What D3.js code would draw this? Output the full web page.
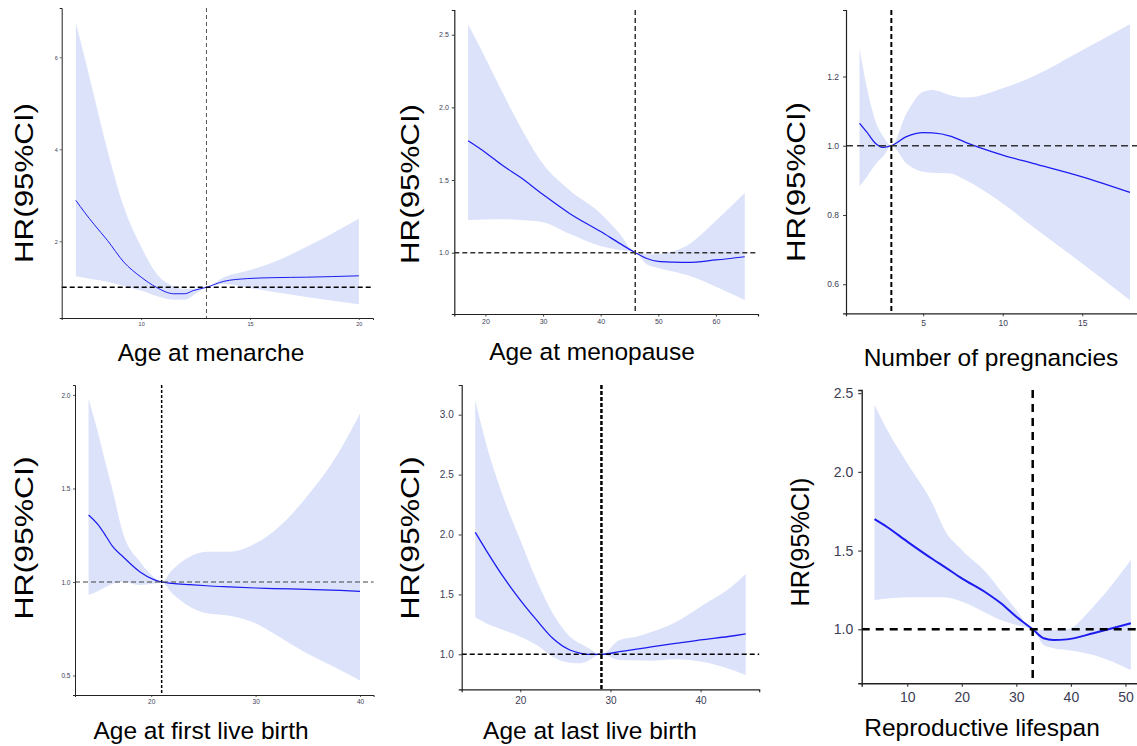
<!DOCTYPE html>
<html>
<head>
<meta charset="utf-8">
<script src="https://cdn.jsdelivr.net/npm/d3@7"></script>
<style>
  body { margin: 0; background: #fff; }
  svg { display: block; font-family: "Liberation Sans", Arial, sans-serif; }
</style>
</head>
<body>
<svg width="1137" height="746"></svg>
<script>
// ---- data (x, HR estimate, lower CI, upper CI) ----
var menarcheX  = [7, 7.4, 7.85, 8.45, 9.2, 10, 10.7, 11.5, 12.0, 12.4, 13, 13.8, 14.9, 16.1, 17.6, 20];
var menarcheHR = [2.89, 2.63, 2.36, 2.02, 1.55, 1.22, 1.0, 0.86, 0.86, 0.93, 1.0, 1.13, 1.19, 1.21, 1.22, 1.25];
var menarcheLo = [1.24, 1.21, 1.17, 1.12, 1.03, 0.93, 0.81, 0.73, 0.73, 0.83, 1.0, 1.07, 0.99, 0.9, 0.79, 0.63];
var menarcheHi = [6.75, 6.0, 5.13, 3.98, 2.75, 1.88, 1.30, 1.02, 0.97, 0.97, 1.0, 1.22, 1.36, 1.55, 1.88, 2.49];

var menopauseX  = [17, 20, 23, 26, 30, 34.6, 40, 43.3, 46, 48, 50, 52.6, 55, 60, 65];
var menopauseHR = [1.77, 1.69, 1.60, 1.52, 1.40, 1.27, 1.145, 1.064, 1.0, 0.96, 0.94, 0.935, 0.933, 0.95, 0.972];
var menopauseLo = [1.225, 1.228, 1.23, 1.225, 1.21, 1.13, 1.046, 1.018, 1.0, 0.92, 0.895, 0.87, 0.846, 0.766, 0.674];
var menopauseHi = [2.57, 2.34, 2.10, 1.87, 1.61, 1.43, 1.27, 1.13, 1.0, 0.99, 0.99, 1.01, 1.05, 1.22, 1.41];

var pregX  = [1, 1.45, 2.05, 2.5, 3, 3.95, 5, 5.6, 6.7, 7.7, 10, 11.9, 15, 18];
var pregHR = [1.065, 1.04, 1.005, 0.995, 1.0, 1.026, 1.038, 1.037, 1.028, 1.009, 0.973, 0.949, 0.91, 0.865];
var pregLo = [0.883, 0.91, 0.949, 0.97, 1.0, 0.949, 0.925, 0.922, 0.92, 0.90, 0.833, 0.766, 0.66, 0.554];
var pregHi = [1.281, 1.17, 1.065, 1.026, 1.0, 1.093, 1.156, 1.161, 1.146, 1.139, 1.166, 1.2, 1.276, 1.351];

var firstX  = [14, 15, 15.7, 16.3, 17.3, 18.9, 20.2, 21, 22, 23.7, 25.3, 27.5, 30, 31.7, 34.9, 38.1, 40];
var firstHR = [1.358, 1.30, 1.242, 1.19, 1.135, 1.055, 1.014, 1.0, 0.993, 0.986, 0.98, 0.974, 0.968, 0.965, 0.961, 0.955, 0.95];
var firstLo = [0.93, 0.955, 0.975, 0.99, 1.0, 0.984, 0.99, 1.0, 0.94, 0.868, 0.833, 0.82, 0.78, 0.726, 0.619, 0.53, 0.473];
var firstHi = [1.98, 1.777, 1.62, 1.49, 1.26, 1.109, 1.028, 1.0, 1.064, 1.135, 1.162, 1.162, 1.207, 1.269, 1.456, 1.706, 1.90];

var lastX  = [15, 16.2, 18.1, 20, 21.8, 23.6, 25.5, 26.6, 27.3, 29, 31, 32.9, 34.7, 37, 40, 43.7, 45];
var lastHR = [2.018, 1.87, 1.648, 1.453, 1.287, 1.134, 1.036, 1.01, 1.0, 1.0, 1.022, 1.043, 1.064, 1.09, 1.12, 1.155, 1.17];
var lastLo = [1.309, 1.259, 1.203, 1.147, 1.078, 0.98, 0.93, 0.925, 0.939, 1.0, 0.953, 0.95, 0.947, 0.958, 0.94, 0.865, 0.828];
var lastHi = [3.12, 2.76, 2.316, 1.954, 1.62, 1.342, 1.147, 1.09, 1.064, 1.0, 1.12, 1.147, 1.19, 1.26, 1.398, 1.58, 1.67];

var lifespanX  = [4, 6.3, 10, 14.9, 16.7, 20, 24.6, 27, 30, 33, 35, 36.8, 39.3, 44.1, 51];
var lifespanHR = [1.70, 1.65, 1.557, 1.44, 1.40, 1.324, 1.229, 1.17, 1.08, 1.0, 0.943, 0.932, 0.936, 0.975, 1.038];
var lifespanLo = [1.186, 1.195, 1.203, 1.203, 1.203, 1.176, 1.10, 1.06, 1.028, 1.0, 0.90, 0.88, 0.869, 0.837, 0.742];
var lifespanHi = [2.426, 2.267, 2.055, 1.78, 1.64, 1.504, 1.356, 1.25, 1.123, 1.0, 0.996, 0.996, 1.0, 1.144, 1.44];

var titles = ["Age at menarche", "Age at menopause", "Number of pregnancies",
              "Age at first live birth", "Age at last live birth", "Reproductive lifespan"];
var refX = [13, 46, 3, 21, 29, 33];
var xTicks = [[10, 15, 20], [20, 30, 40, 50, 60], [5, 10, 15], [20, 30, 40], [20, 30, 40], [10, 20, 30, 40, 50]];
var yTicks = [[2, 4, 6], [1.0, 1.5, 2.0, 2.5], [0.6, 0.8, 1.0, 1.2], [0.5, 1.0, 1.5, 2.0], [1.0, 1.5, 2.0, 2.5, 3.0], [1.0, 1.5, 2.0, 2.5]];

var series = [
  [menarcheX, menarcheHR, menarcheLo, menarcheHi],
  [menopauseX, menopauseHR, menopauseLo, menopauseHi],
  [pregX, pregHR, pregLo, pregHi],
  [firstX, firstHR, firstLo, firstHi],
  [lastX, lastHR, lastLo, lastHi],
  [lifespanX, lifespanHR, lifespanLo, lifespanHi]
];

// layout and style per panel
var layout = [
  {box: [61.7, 8, 373, 318], xd: [6.35, 20.65], yd: [0.333, 7.07], fmt: "d", fs: 5.5, tick: 2, pad: 2,
   tx: 211, ty: 361, yx: 24, yy: 183, ylen: 160, lw: 1, axw: 1,
   v: ["#555", 1, "4,3"], h: ["#000", 1.5, "5,3"]},
  {box: [454.3, 10, 758, 314], xd: [14.6, 67.3], yd: [0.578, 2.67], fmt: ".1f", fs: 7, tick: 2.5, pad: 3,
   tx: 592, ty: 360, yx: 410, yy: 184, ylen: 160, lw: 1.2, axw: 1.2,
   v: ["#333", 1.5, "5,3"], h: ["#333", 1.5, "5,3"]},
  {box: [846, 10, 1143.5, 313.3], xd: [0.15, 18.85], yd: [0.516, 1.392], fmt: ".1f", fs: 8.5, tick: 3, pad: 4,
   tx: 991, ty: 366, yx: 796, yy: 182, ylen: 160, lw: 1.3, axw: 1.2,
   v: ["#000", 2, "5,3"], h: ["#333", 1.6, "7,4"]},
  {box: [75, 385, 373.6, 695], xd: [12.7, 41.3], yd: [0.396, 2.053], fmt: ".1f", fs: 6.5, tick: 2, pad: 2.5,
   tx: 201, ty: 739, yx: 24, yy: 538, ylen: 163, lw: 1.2, axw: 1,
   v: ["#000", 1.5, "3,2"], h: ["#444", 1.2, "5,3"]},
  {box: [461.7, 385, 759.2, 689.3], xd: [13.5, 46.5], yd: [0.708, 3.248], fmt: ".1f", fs: 10, tick: 3, pad: 5,
   tx: 590, ty: 739, yx: 410, yy: 538, ylen: 163, lw: 1.3, axw: 1.2,
   v: ["#000", 2.5, "4,2"], h: ["#000", 1.5, "5,3"]},
  {box: [861.7, 390, 1143.7, 683.3], xd: [1.65, 53.35], yd: [0.657, 2.52], fmt: ".1f", fs: 14, tick: 3.5, pad: 5,
   tx: 982, ty: 736, yx: 800, yy: 542, ylen: 129, lw: 2, axw: 1.4,
   v: ["#000", 2.5, "8,6"], h: ["#000", 2.5, "8,6"]}
];

var svg = d3.select("svg");

series.forEach(function(s, i) {
  var L = layout[i];
  var x = d3.scaleLinear().domain(L.xd).range([L.box[0], L.box[2]]);
  var y = d3.scaleLinear().domain(L.yd).range([L.box[3], L.box[1]]);
  var pts = s[0].map(function(d, k) { return {x: d, est: s[1][k], lo: s[2][k], hi: s[3][k]}; });
  var g = svg.append("g");

  g.append("path")
    .datum(pts)
    .attr("fill", "#dbe2fa")
    .attr("d", d3.area()
      .x(function(d) { return x(d.x); })
      .y0(function(d) { return y(d.lo); })
      .y1(function(d) { return y(d.hi); })
      .curve(d3.curveMonotoneX));

  g.append("path")
    .datum(pts)
    .attr("fill", "none")
    .attr("stroke", "#1c1cf0")
    .attr("stroke-width", L.lw)
    .attr("d", d3.line()
      .x(function(d) { return x(d.x); })
      .y(function(d) { return y(d.est); })
      .curve(d3.curveMonotoneX));

  // reference lines
  g.append("line")
    .attr("x1", x(refX[i])).attr("x2", x(refX[i]))
    .attr("y1", L.box[1]).attr("y2", L.box[3])
    .attr("stroke", L.v[0]).attr("stroke-width", L.v[1]).attr("stroke-dasharray", L.v[2]);
  g.append("line")
    .attr("x1", L.box[0]).attr("x2", L.box[2])
    .attr("y1", y(1)).attr("y2", y(1))
    .attr("stroke", L.h[0]).attr("stroke-width", L.h[1]).attr("stroke-dasharray", L.h[2]);

  // axes
  var xa = g.append("g")
    .attr("transform", "translate(0," + L.box[3] + ")")
    .call(d3.axisBottom(x).tickValues(xTicks[i]).tickFormat(d3.format("d"))
      .tickSizeOuter(0).tickSize(L.tick).tickPadding(L.pad));
  var ya = g.append("g")
    .attr("transform", "translate(" + L.box[0] + ",0)")
    .call(d3.axisLeft(y).tickValues(yTicks[i]).tickFormat(d3.format(L.fmt))
      .tickSizeOuter(0).tickSize(L.tick).tickPadding(L.pad));
  [xa, ya].forEach(function(a) {
    a.select(".domain").attr("stroke", "#222").attr("stroke-width", L.axw);
    a.selectAll(".tick line").attr("stroke", "#333").attr("stroke-width", L.axw * 0.8);
    a.selectAll(".tick text").attr("fill", "#3d3d55").style("font-size", L.fs + "px")
      .style("font-family", "'Liberation Sans', Arial, sans-serif");
  });

  // titles
  svg.append("text")
    .attr("x", L.tx).attr("y", L.ty)
    .attr("text-anchor", "middle")
    .style("font-size", "24.5px")
    .text(titles[i]);
  svg.append("text")
    .attr("transform", "translate(" + L.yx + "," + L.yy + ") rotate(-90)")
    .attr("text-anchor", "middle")
    .attr("dy", "0.36em")
    .attr("textLength", L.ylen)
    .attr("lengthAdjust", "spacingAndGlyphs")
    .style("font-size", "25px")
    .text("HR(95%CI)");
});
</script>
</body>
</html>
